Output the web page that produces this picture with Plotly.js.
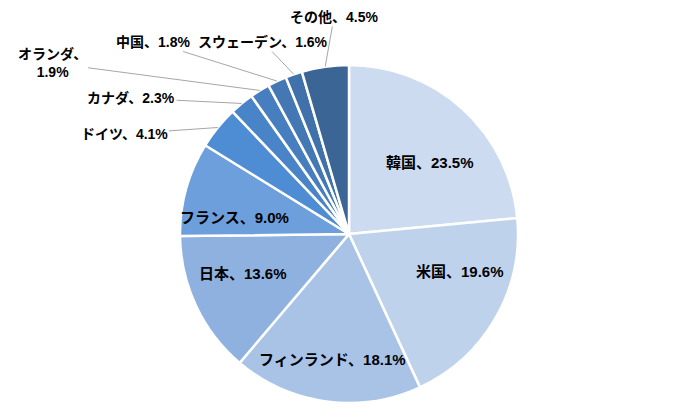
<!DOCTYPE html>
<html>
<head>
<meta charset="utf-8">
<script src="https://cdn.plot.ly/plotly-3.0.1.min.js"></script>
<style>
  body { margin: 0; background: #fff; }
  #plot { width: 700px; height: 420px; }
</style>
</head>
<body>
<div id="plot"></div>
<script>
const countries = ["韓国", "米国", "フィンランド", "日本", "フランス", "ドイツ", "カナダ", "オランダ", "中国", "スウェーデン", "その他"];
const shares = [23.5, 19.6, 18.1, 13.6, 9.0, 4.1, 2.3, 1.9, 1.8, 1.6, 4.5];
const sliceColors = ["#cddbf0", "#bfd2ec", "#a8c3e6", "#8fb1df", "#6c9fdc", "#4e8cd3", "#4a84c8", "#477ebf", "#4478b5", "#4071aa", "#3b6594"];

// where each label sits (pixels); small slices get a leader line
const labelPos = {
  "韓国": { x: 430, y: 163 },
  "米国": { x: 460, y: 282 },
  "フィンランド": { x: 332, y: 370 },
  "日本": { x: 243, y: 273 },
  "フランス": { x: 234, y: 217 },
  "ドイツ": { x: 124, y: 134, line: true },
  "カナダ": { x: 131, y: 98, line: true },
  "オランダ": { x: 52, y: 63, line: true, wrap: true },
  "中国": { x: 153, y: 42, line: true },
  "スウェーデン": { x: 263, y: 42, line: true },
  "その他": { x: 334, y: 17, line: true }
};

const W = 700, H = 420;
const cx = 349, cy = 234, r = 169;

const font = "'Liberation Sans', 'Noto Sans CJK JP', sans-serif";

let total = shares.reduce((a, b) => a + b, 0);
let annotations = [];
let cum = 0;
for (let i = 0; i < countries.length; i++) {
  let mid = cum + shares[i] / 2;
  cum += shares[i];
  let lab = labelPos[countries[i]];
  let txt = countries[i] + "、" + (lab.wrap ? "<br>" : "") + shares[i].toFixed(1) + "%";
  if (!lab.line) {
    annotations.push({
      x: lab.x / W,
      y: 1 - lab.y / H,
      xref: "paper",
      yref: "paper",
      text: txt,
      showarrow: false,
      font: { family: font, size: 15, color: "#000", weight: 600 }
    });
    continue;
  }
  // arrow tip at the middle of the slice's outer edge
  let ang = mid / total * 2 * Math.PI;
  let tx = cx + r * Math.sin(ang);
  let ty = cy - r * Math.cos(ang);
  annotations.push({
    x: tx / W,
    y: 1 - ty / H,
    xref: "paper",
    yref: "paper",
    ax: lab.x - tx,
    ay: lab.y - ty,
    text: txt,
    showarrow: true,
    arrowhead: 0,
    arrowwidth: 1,
    arrowcolor: "#a6a6a6",
    standoff: 0,
    font: { family: font, size: 14, color: "#000", weight: "bold" }
  });
}

var trace = {
  type: "pie",
  labels: countries,
  values: shares,
  textinfo: "none",
  sort: false,
  direction: "clockwise",
  rotation: 0,
  marker: { colors: sliceColors, line: { color: "#fff", width: 2.5 } },
  hoverinfo: "label+percent",
  domain: { x: [(cx - r) / W, (cx + r) / W], y: [1 - (cy + r) / H, 1 - (cy - r) / H] }
};

var layout = {
  width: W,
  height: H,
  margin: { l: 0, r: 0, t: 0, b: 0 },
  showlegend: false,
  paper_bgcolor: "#fff",
  annotations: annotations
};

Plotly.newPlot("plot", [trace], layout, { displayModeBar: false, staticPlot: true });
</script>
</body>
</html>
